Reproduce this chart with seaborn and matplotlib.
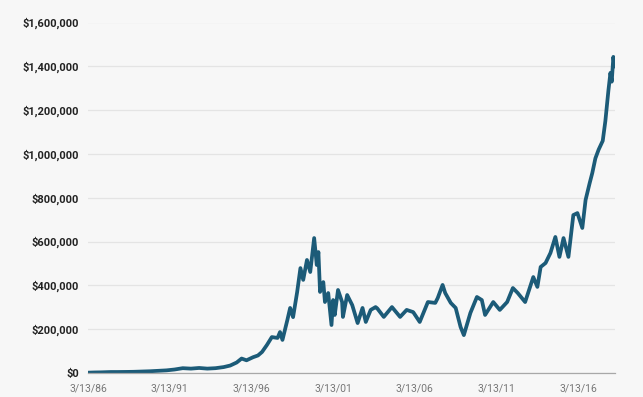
import matplotlib
matplotlib.use("Agg")
import matplotlib.pyplot as plt
import seaborn as sns
import pandas as pd
from matplotlib.ticker import FuncFormatter

# decimal year -> value (USD)
years = [1986.20, 1986.6, 1987.0, 1987.6, 1988.0, 1988.6, 1989.0, 1989.6, 1990.0, 1990.5,
         1991.0, 1991.5, 1992.0, 1992.5, 1993.0, 1993.5, 1994.0, 1994.5, 1994.9, 1995.3,
         1995.6, 1995.9, 1996.3, 1996.6, 1996.85, 1997.15, 1997.45, 1997.8, 1997.95, 1998.1,
         1998.4, 1998.57, 1998.75, 1999.0, 1999.2, 1999.37, 1999.6, 1999.8, 2000.04, 2000.2,
         2000.3, 2000.4, 2000.6, 2000.7, 2000.9, 2001.1, 2001.2, 2001.3, 2001.5, 2001.75,
         2001.8, 2002.06, 2002.37, 2002.7, 2003.0, 2003.2, 2003.5, 2003.8, 2003.9, 2004.3,
         2004.8, 2005.3, 2005.7, 2006.1, 2006.5, 2007.0, 2007.45, 2007.6, 2007.9, 2008.06,
         2008.4, 2008.7, 2009.0, 2009.2, 2009.6, 2010.0, 2010.3, 2010.5, 2011.0, 2011.4,
         2011.85, 2012.2, 2012.5, 2012.95, 2013.45, 2013.7, 2013.9, 2014.2, 2014.5, 2014.8,
         2015.05, 2015.3, 2015.6, 2015.9, 2016.15, 2016.45, 2016.65, 2016.9, 2017.06, 2017.25,
         2017.45, 2017.7, 2017.86, 2018.05, 2018.17, 2018.25, 2018.35, 2018.42]
values = [1500, 2500, 3000, 4500, 4500, 5000, 5500, 7000, 8000, 10000,
          12000, 16000, 22000, 20000, 23000, 20000, 22000, 27000, 34000, 48000,
          66000, 58000, 72000, 80000, 96000, 128000, 164000, 160000, 187000, 151000,
          242000, 297000, 255000, 370000, 479000, 425000, 516000, 461000, 616000, 493000,
          552000, 370000, 415000, 324000, 365000, 219000, 333000, 265000, 379000, 324000,
          256000, 356000, 310000, 228000, 297000, 233000, 288000, 301000, 295000, 256000,
          301000, 256000, 288000, 278000, 233000, 324000, 320000, 342000, 402000, 365000,
          320000, 297000, 210000, 173000, 274000, 347000, 333000, 265000, 324000, 288000,
          324000, 388000, 365000, 324000, 438000, 393000, 484000, 502000, 548000, 621000,
          530000, 616000, 530000, 721000, 730000, 662000, 790000, 867000, 913000, 980000,
          1020000, 1060000, 1150000, 1292000, 1370000, 1330000, 1443000, 1400000]

tick_years = [1986.2, 1991.2, 1996.2, 2001.2, 2006.2, 2011.2, 2016.2]
tick_labels = ["3/13/86", "3/13/91", "3/13/96", "3/13/01", "3/13/06", "3/13/11", "3/13/16"]
y_ticks = [0, 200000, 400000, 600000, 800000, 1000000, 1200000, 1400000, 1600000]

df = pd.DataFrame({"year": years, "value": values})

bg = "#f7f7f7"
fig = plt.figure(figsize=(6.43, 3.97), dpi=100, facecolor=bg)
ax = fig.add_axes([88/643, 1-373/397, (615-88)/643, (373-22.5)/397], facecolor=bg)

sns.lineplot(data=df, x="year", y="value", ax=ax, color="#1c5b78", linewidth=2.7)

ax.set_xlim(1986.2, 2018.45)
ax.set_ylim(0, 1600000)
ax.set_yticks(y_ticks)
ax.yaxis.set_major_formatter(FuncFormatter(lambda v, p: f"${int(v):,}"))
ax.set_xticks(tick_years)
ax.set_xticklabels(tick_labels)
ax.set_xlabel("")
ax.set_ylabel("")

ax.grid(axis="y", color="#e4e4e4", linewidth=0.9)
ax.grid(axis="x", visible=False)
ax.set_axisbelow(True)
for s in ["top", "right", "left"]:
    ax.spines[s].set_visible(False)
ax.spines["bottom"].set_color("#a8a8a8")
ax.spines["bottom"].set_linewidth(0.9)

ax.tick_params(axis="y", length=0, pad=6.3, labelsize=8, labelcolor="#222222")
ax.tick_params(axis="x", length=0, pad=7.5, labelsize=7.5, labelcolor="#777777")
for lab in ax.get_yticklabels():
    lab.set_fontfamily("Roboto")
    lab.set_fontweight("bold")
for lab in ax.get_xticklabels():
    lab.set_fontfamily("Roboto")

fig.savefig("out.png", dpi=100, facecolor=bg)
